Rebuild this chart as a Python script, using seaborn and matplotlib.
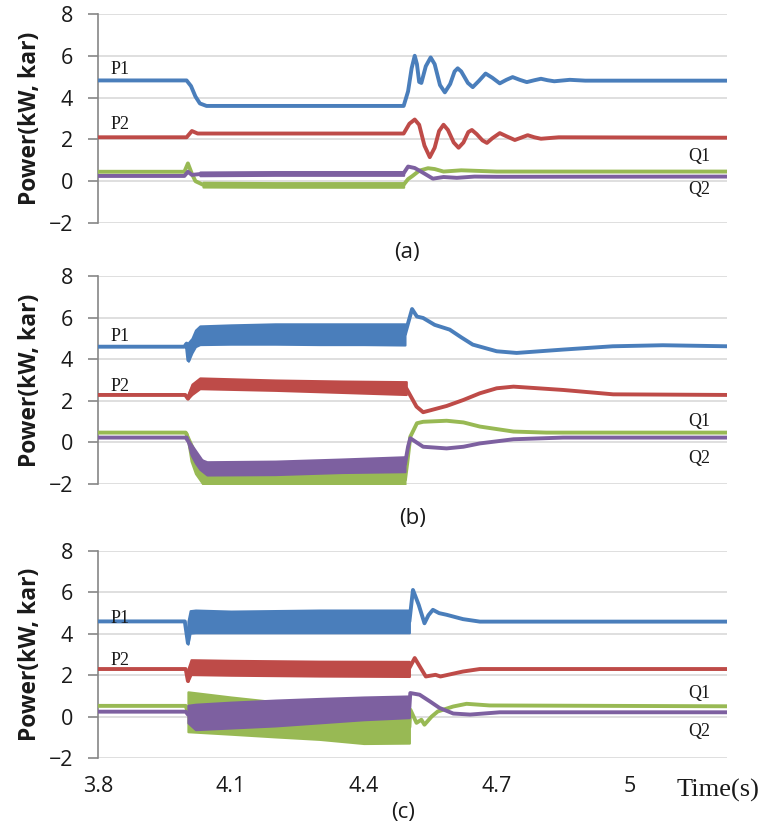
import numpy as np
import seaborn as sns
import matplotlib
matplotlib.use('Agg')
import matplotlib.pyplot as plt

sns.set_theme(style='white')
plt.rcParams['font.family'] = ['Open Sans', 'DejaVu Sans']

blue = '#4A7EBB'
red = '#BE4B48'
green = '#98B954'
purple = '#7D60A0'

x_ticks = [3.8, 4.1, 4.4, 4.7, 5.0]
x_labels = ['3.8', '4.1', '4.4', '4.7', '5']
y_ticks = [-2, 0, 2, 4, 6, 8]

"""
(a)
"""
a_p1_t = [3.80, 4.000, 4.010, 4.020, 4.030, 4.045, 4.490, 4.500, 4.508, 4.515, 4.520,
          4.525, 4.530, 4.540, 4.551, 4.560, 4.572, 4.583, 4.595, 4.605, 4.612, 4.620,
          4.635, 4.646, 4.660, 4.675, 4.690, 4.707, 4.722, 4.736, 4.752, 4.768, 4.785,
          4.800, 4.815, 4.830, 4.865, 4.900, 5.22]
a_p1 = [4.82, 4.82, 4.55, 4.05, 3.72, 3.60, 3.60, 4.30, 5.40, 6.00, 5.60,
        4.75, 4.70, 5.50, 5.92, 5.60, 4.60, 4.25, 4.65, 5.25, 5.40, 5.25,
        4.70, 4.50, 4.80, 5.15, 4.95, 4.68, 4.85, 4.98, 4.85, 4.74, 4.83,
        4.90, 4.83, 4.78, 4.85, 4.81, 4.81]

a_p2_t = [3.80, 4.000, 4.012, 4.025, 4.490, 4.503, 4.515, 4.525, 4.537, 4.549, 4.560,
          4.570, 4.580, 4.590, 4.603, 4.614, 4.625, 4.636, 4.644, 4.655, 4.668, 4.678,
          4.690, 4.707, 4.722, 4.741, 4.755, 4.770, 4.785, 4.800, 4.840, 5.22]
a_p2 = [2.10, 2.10, 2.40, 2.28, 2.28, 2.75, 2.95, 2.70, 1.70, 1.15, 1.60,
        2.40, 2.70, 2.45, 1.85, 1.60, 1.85, 2.35, 2.45, 2.25, 1.95, 1.83,
        2.05, 2.30, 2.15, 1.97, 2.08, 2.20, 2.10, 2.03, 2.10, 2.08]

a_q1_t = [3.80, 3.995, 4.003, 4.012, 4.020, 4.037, 4.490, 4.500, 4.510, 4.525, 4.545,
          4.560, 4.580, 4.620, 4.700, 5.22]
a_q1 = [0.45, 0.45, 0.85, 0.35, 0.00, -0.17, -0.17, 0.10, 0.25, 0.50, 0.62,
        0.58, 0.46, 0.52, 0.46, 0.46]
a_q1_band_t = [4.037, 4.200, 4.490]
a_q1_lo = [-0.28, -0.29, -0.29]
a_q1_hi = [-0.05, -0.07, -0.07]

a_q2_t = [3.80, 3.995, 4.003, 4.012, 4.030, 4.490, 4.500, 4.515, 4.530, 4.556, 4.580,
          4.610, 4.650, 4.700, 5.22]
a_q2 = [0.25, 0.25, 0.45, 0.30, 0.34, 0.38, 0.70, 0.63, 0.45, 0.12, 0.20,
        0.16, 0.22, 0.21, 0.22]
a_q2_band_t = [4.030, 4.200, 4.490]
a_q2_lo = [0.26, 0.28, 0.28]
a_q2_hi = [0.44, 0.46, 0.46]

"""
(b)
"""
b_p1_t = [3.80, 3.995, 4.000, 4.004, 4.012, 4.030, 4.493, 4.509, 4.520, 4.534, 4.560,
          4.594, 4.620, 4.646, 4.700, 4.745, 4.849, 4.962, 5.075, 5.22]
b_p1 = [4.60, 4.60, 4.75, 3.95, 4.60, 5.15, 5.20, 6.41, 6.05, 5.98, 5.65,
        5.42, 5.05, 4.70, 4.38, 4.30, 4.46, 4.62, 4.67, 4.62]
b_p1_band_t = [4.004, 4.012, 4.020, 4.030, 4.100, 4.200, 4.300, 4.400, 4.493]
b_p1_lo = [3.90, 4.30, 4.60, 4.70, 4.72, 4.72, 4.70, 4.70, 4.68]
b_p1_hi = [4.80, 5.00, 5.40, 5.60, 5.65, 5.70, 5.70, 5.70, 5.70]

b_p2_t = [3.80, 3.997, 4.003, 4.012, 4.030, 4.496, 4.519, 4.534, 4.587, 4.625, 4.662,
          4.700, 4.738, 4.850, 4.963, 5.22]
b_p2 = [2.28, 2.28, 2.10, 2.55, 2.85, 2.60, 1.72, 1.45, 1.75, 2.04, 2.36,
        2.60, 2.68, 2.52, 2.31, 2.28]
b_p2_band_t = [4.003, 4.012, 4.030, 4.200, 4.350, 4.496]
b_p2_lo = [2.10, 2.30, 2.58, 2.50, 2.40, 2.30]
b_p2_hi = [2.30, 2.80, 3.10, 3.00, 2.95, 2.92]

b_q1_t = [3.80, 3.998, 4.046, 4.493, 4.498, 4.505, 4.520, 4.534, 4.587, 4.625, 4.662,
          4.738, 4.812, 5.22]
b_q1 = [0.47, 0.47, -1.80, -1.80, -1.00, 0.27, 0.92, 0.99, 1.04, 0.96, 0.76,
        0.52, 0.47, 0.47]
b_q1_band_t = [4.000, 4.010, 4.020, 4.030, 4.046, 4.200, 4.493]
b_q1_lo = [0.40, -0.90, -1.50, -1.80, -2.30, -2.30, -2.30]
b_q1_hi = [0.47, -0.30, -0.70, -1.00, -1.30, -1.30, -1.20]

b_q2_t = [3.80, 3.998, 4.046, 4.493, 4.500, 4.505, 4.519, 4.534, 4.587, 4.625, 4.662,
          4.738, 4.850, 5.22]
b_q2 = [0.23, 0.23, -1.25, -1.05, -0.20, 0.20, 0.00, -0.21, -0.29, -0.21, -0.05,
        0.15, 0.23, 0.23]
b_q2_band_t = [4.000, 4.010, 4.020, 4.030, 4.046, 4.200, 4.350, 4.493]
b_q2_lo = [0.20, -0.60, -1.00, -1.30, -1.57, -1.55, -1.45, -1.41]
b_q2_hi = [0.30, -0.20, -0.50, -0.80, -0.93, -0.90, -0.80, -0.69]

"""
(c)
"""
c_p1_t = [3.80, 3.996, 4.003, 4.008, 4.503, 4.511, 4.524, 4.537, 4.546, 4.556, 4.570,
          4.587, 4.624, 4.662, 5.22]
c_p1 = [4.60, 4.60, 3.55, 4.60, 4.60, 6.12, 5.40, 4.51, 4.90, 5.16, 5.00,
        4.92, 4.71, 4.59, 4.59]
c_p1_band_t = [4.003, 4.008, 4.020, 4.100, 4.300, 4.503]
c_p1_lo = [3.50, 4.03, 4.05, 4.05, 4.05, 4.05]
c_p1_hi = [4.60, 5.12, 5.15, 5.10, 5.15, 5.15]

c_p2_t = [3.80, 3.998, 4.003, 4.008, 4.503, 4.515, 4.527, 4.540, 4.562, 4.573, 4.624,
          4.662, 5.22]
c_p2 = [2.30, 2.30, 1.72, 2.35, 2.35, 2.83, 2.40, 1.94, 2.02, 1.94, 2.18,
        2.30, 2.30]
c_p2_band_t = [4.003, 4.010, 4.100, 4.300, 4.503]
c_p2_lo = [1.70, 2.03, 2.00, 1.96, 1.94]
c_p2_hi = [2.30, 2.75, 2.72, 2.68, 2.67]

c_q1_t = [3.80, 3.998, 4.003, 4.503, 4.505, 4.519, 4.530, 4.537, 4.553, 4.567, 4.602,
          4.632, 4.684, 5.22]
c_q1 = [0.52, 0.52, 0.20, -0.50, 0.34, -0.30, -0.15, -0.39, 0.00, 0.25, 0.49,
        0.62, 0.54, 0.50]
c_q1_band_t = [4.003, 4.100, 4.200, 4.300, 4.400, 4.503]
c_q1_lo = [-0.73, -0.85, -0.98, -1.10, -1.30, -1.28]
c_q1_hi = [1.20, 0.95, 0.72, 0.50, 0.30, 0.10]

c_q2_t = [3.80, 3.998, 4.003, 4.503, 4.505, 4.526, 4.549, 4.571, 4.602, 4.640, 4.707, 5.22]
c_q2 = [0.24, 0.24, 0.10, 0.45, 1.14, 1.06, 0.74, 0.42, 0.15, 0.10, 0.21, 0.21]
c_q2_band_t = [4.003, 4.020, 4.100, 4.200, 4.300, 4.400, 4.503]
c_q2_lo = [-0.30, -0.63, -0.55, -0.45, -0.30, -0.15, -0.05]
c_q2_hi = [0.55, 0.60, 0.70, 0.80, 0.88, 0.95, 1.00]

"""
label positions (P1, P2 at left, Q1, Q2 at right)
"""
p_label_t = 3.85
q_label_t = 5.158
a_label_y = [5.32, 2.69, 1.16, -0.42]
b_label_y = [5.08, 2.68, 1.00, -0.76]
c_label_y = [4.72, 2.71, 1.14, -0.71]

fig = plt.figure(figsize=(7.62, 8.32), dpi=100)
ax1 = fig.add_axes([0.1286, 0.7320, 0.8255, 0.2512])
ax2 = fig.add_axes([0.1286, 0.4183, 0.8255, 0.2500])
ax3 = fig.add_axes([0.1286, 0.0889, 0.8255, 0.2488])

panels = [
    (ax1, [(a_p1_t, a_p1, blue, None), (a_p2_t, a_p2, red, None),
           (a_q1_t, a_q1, green, (a_q1_band_t, a_q1_lo, a_q1_hi)),
           (a_q2_t, a_q2, purple, (a_q2_band_t, a_q2_lo, a_q2_hi))], a_label_y),
    (ax2, [(b_p1_t, b_p1, blue, (b_p1_band_t, b_p1_lo, b_p1_hi)),
           (b_p2_t, b_p2, red, (b_p2_band_t, b_p2_lo, b_p2_hi)),
           (b_q1_t, b_q1, green, (b_q1_band_t, b_q1_lo, b_q1_hi)),
           (b_q2_t, b_q2, purple, (b_q2_band_t, b_q2_lo, b_q2_hi))], b_label_y),
    (ax3, [(c_p1_t, c_p1, blue, (c_p1_band_t, c_p1_lo, c_p1_hi)),
           (c_p2_t, c_p2, red, (c_p2_band_t, c_p2_lo, c_p2_hi)),
           (c_q1_t, c_q1, green, (c_q1_band_t, c_q1_lo, c_q1_hi)),
           (c_q2_t, c_q2, purple, (c_q2_band_t, c_q2_lo, c_q2_hi))], c_label_y),
]

for ax, series, label_y in panels:
    for i, (t, v, col, band) in enumerate(series):
        sns.lineplot(x=t, y=v, ax=ax, color=col, linewidth=2.8, estimator=None,
                     sort=False, zorder=3 + i, solid_joinstyle='round')
        if band is not None:
            ax.fill_between(band[0], band[1], band[2], color=col, linewidth=1.5,
                            edgecolor=col, zorder=3 + i)
    for name, t, y in zip(['P1', 'P2', 'Q1', 'Q2'],
                          [p_label_t, p_label_t, q_label_t, q_label_t], label_y):
        ax.text(t, y, name, family='Liberation Serif', fontsize=13,
                ha='center', va='center', color='#1a1a1a', zorder=10)

    ax.set_xlim(3.8, 5.22)
    ax.set_ylim(-2, 8)
    ax.set_yticks(y_ticks)
    ax.set_xticks(x_ticks)
    ax.grid(axis='y', color='#D9D9D9', linewidth=1.2)
    ax.grid(axis='x', visible=False)
    ax.set_axisbelow(True)
    for s in ['top', 'right', 'bottom']:
        ax.spines[s].set_visible(False)
    ax.spines['left'].set_color('#868686')
    ax.spines['left'].set_linewidth(1.2)
    ax.tick_params(axis='y', left=True, length=7, width=1.2, color='#868686',
                   pad=11, labelsize=15.5, labelcolor='#1a1a1a')
    ax.tick_params(axis='x', bottom=False, length=0, pad=13, labelsize=15.5,
                   labelcolor='#1a1a1a')
    ax.set_ylabel('Power(kW, kar)', fontsize=16.5, fontweight='bold',
                  color='#1a1a1a', labelpad=5)
    ax.set_xlabel('')

ax1.set_xticklabels([])
ax2.set_xticklabels([])
ax3.set_xticklabels(x_labels)

fig.text(0.534, 0.696, '(a)', fontsize=16, ha='center', va='center', color='#1a1a1a')
fig.text(0.542, 0.377, '(b)', fontsize=16, ha='center', va='center', color='#1a1a1a')
fig.text(0.529, 0.023, '(c)', fontsize=16, ha='center', va='center', color='#1a1a1a')
fig.text(0.888, 0.042, 'Time(s)', family='Liberation Serif', fontsize=19,
         ha='left', va='baseline', color='#1a1a1a')

plt.savefig('out.png', dpi=100)
